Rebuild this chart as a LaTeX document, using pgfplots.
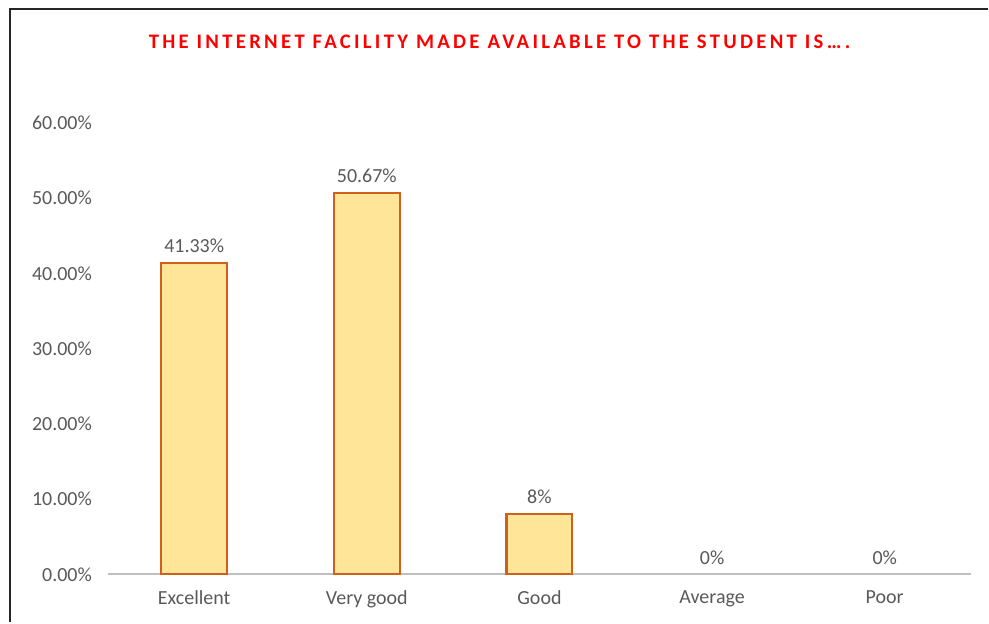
\documentclass[border=0pt]{standalone}
\usepackage{pgfplots}
\pgfplotsset{compat=1.18}
\usepackage{fontspec}
\setmainfont{Carlito}
\definecolor{barfill}{HTML}{FFE598}
\definecolor{baredge}{HTML}{D0601A}
\definecolor{txt}{HTML}{595959}
\definecolor{axisgray}{HTML}{BFBFBF}
\begin{document}
\begin{tikzpicture}
\begin{axis}[
	scale only axis,width=648pt,height=339pt,
	xmin=-0.5,xmax=4.5,ymin=0,ymax=0.6,
	axis x line*=bottom,axis y line*=left,
	x axis line style={axisgray,line width=1.5pt,-},
	y axis line style={draw=none,-},
	major tick length=0pt,
	xtick={0,1,2,3,4},xticklabels={Excellent,Very good,Good,Average,Poor},
	ytick={0,0.1,0.2,0.3,0.4,0.5,0.6},
	yticklabels={0.00\%,10.00\%,20.00\%,30.00\%,40.00\%,50.00\%,60.00\%},
	clip=false,
	font=\fontsize{15}{18}\selectfont,
	tick label style={text=txt},
	xticklabel style={yshift=-9pt},
	yticklabel style={anchor=east,xshift=-8.5pt},
	ybar,bar width=49.5pt,bar shift=0pt,
	nodes near coords=\pgfplotspointmeta,
	point meta=explicit symbolic,
	every node near coord/.append style={text=txt,font=\fontsize{15}{18}\selectfont,yshift=4pt}]
\addplot[fill=barfill,draw=baredge,line width=1.6pt] table[meta=lab] {
x y lab
0 0.4133 41.33\%
1 0.5067 50.67\%
2 0.08 8\%
};
\addplot[fill=none,draw=none] table[meta=lab] {
x y lab
3 0 0\%
4 0 0\%
};
\coordinate (o) at (axis cs:-0.5,0);
\end{axis}
\begin{scope}[shift={(o)},x=0.75pt,y=0.75pt]
\path (-108,-48) rectangle (881,575);
\draw[line width=1.5pt,black!85] (-98,-48) -- (-98,566) -- (881,566);
\node[text=red,font=\fontsize{15.5}{18}\selectfont\bfseries\addfontfeatures{LetterSpace=16}] at (392,533) {THE INTERNET FACILITY MADE AVAILABLE TO THE STUDENT IS….};
\end{scope}
\end{tikzpicture}
\end{document}
